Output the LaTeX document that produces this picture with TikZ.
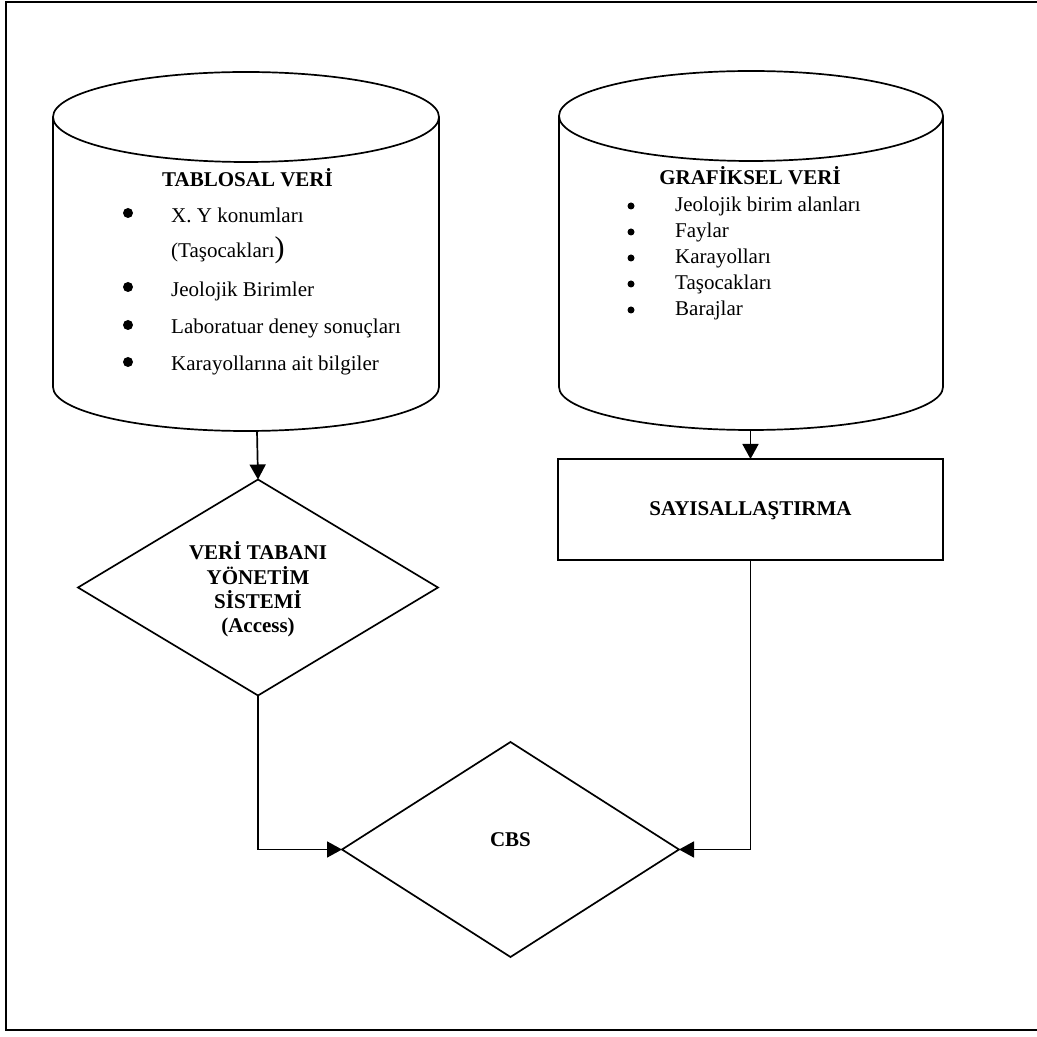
\documentclass[tikz,border=0pt]{standalone}
\usepackage{fontspec}
\setmainfont{Liberation Serif}
\usetikzlibrary{arrows.meta,shapes.geometric}
\tikzset{
  shapeline/.style={line width=1.7pt},
  conn/.style={line width=1.7pt, -{Triangle[length=15pt,width=16pt]}},
  itemtxt/.style={font=\fontsize{21}{24}\selectfont, inner sep=0pt, anchor=base west},
  boldtxt/.style={font=\fontsize{21}{24}\selectfont\bfseries, inner sep=0pt, anchor=base},
  dia/.style={diamond, draw, shapeline, inner sep=0pt, outer sep=0pt},
  bul/.style={fill=black}
}
\begin{document}
\begin{tikzpicture}[x=1pt,y=1pt]
\useasboundingbox (0,0) rectangle (1037,1037);
% outer frame (right side lies outside the picture)
\draw[line width=2.6pt] (1050,1035) -- (6,1035) -- (6,7) -- (1050,7);

% left cylinder
\draw[shapeline] (246,920) ellipse [x radius=193, y radius=45];
\draw[shapeline] (53,920) -- (53,650) arc[start angle=180, end angle=360, x radius=193, y radius=44] -- (439,920);
\coordinate (tabbot) at (257,606);

% right cylinder
\draw[shapeline] (751,921) ellipse [x radius=192, y radius=45];
\draw[shapeline] (559,921) -- (559,650) arc[start angle=180, end angle=360, x radius=192, y radius=43] -- (943,921);
\coordinate (grabot) at (750.5,607);

% left cylinder text
\node[boldtxt] (ttab) at (247.5,850) {TABLOSAL VERİ};
\fill[bul] (128,824) circle (5);
\node[itemtxt] (t1) at (171,814) {X. Y konumları};
\node[itemtxt] (t2) at (171,779) {(Taşocakları{\fontsize{30}{30}\selectfont )}};
\fill[bul] (128,750) circle (5);
\node[itemtxt] (t3) at (171,740) {Jeolojik Birimler};
\fill[bul] (128,712) circle (5);
\node[itemtxt] (t4) at (171,703) {Laboratuar deney sonuçları};
\fill[bul] (128,675) circle (5);
\node[itemtxt] (t5) at (171,666) {Karayollarına ait bilgiler};

% right cylinder text
\node[boldtxt] (tgra) at (750,852) {GRAFİKSEL VERİ};
\fill[bul] (631,831) circle (3.5);
\node[itemtxt] (g1) at (675,825) {Jeolojik birim alanları};
\fill[bul] (631,805) circle (3.5);
\node[itemtxt] (g2) at (675,799) {Faylar};
\fill[bul] (631,779) circle (3.5);
\node[itemtxt] (g3) at (675,773) {Karayolları};
\fill[bul] (631,753) circle (3.5);
\node[itemtxt] (g4) at (675,747) {Taşocakları};
\fill[bul] (631,727) circle (3.5);
\node[itemtxt] (g5) at (675,721) {Barajlar};

% SAYISALLASTIRMA box
\node[draw, shapeline, rectangle, minimum width=385pt, minimum height=101pt, inner sep=0pt, outer sep=0pt] (say) at (750.5,527.5) {};
\node[boldtxt] (tsay) at (750.5,521) {SAYISALLAŞTIRMA};

% VTYS diamond
\node[dia, minimum width=360pt, minimum height=216pt] (vtys) at (258,449.5) {};
\node[boldtxt] (v1) at (258,477.7) {VERİ TABANI};
\node[boldtxt] (v2) at (258,452.7) {YÖNETİM};
\node[boldtxt] (v3) at (258,428.7) {SİSTEMİ};
\node[boldtxt] (v4) at (258,404.7) {(Access)};

% CBS diamond
\node[dia, minimum width=337pt, minimum height=215pt] (cbs) at (510.5,187.5) {};
\node[boldtxt] (tcbs) at (510.5,190) {CBS};

% connectors
\draw[conn] (tabbot) -- (vtys.north);
\draw[conn] (grabot) -- (say.north);
\draw[conn] (vtys.south) |- (cbs.west);
\draw[conn] (say.south) |- (cbs.east);
\end{tikzpicture}
\end{document}
